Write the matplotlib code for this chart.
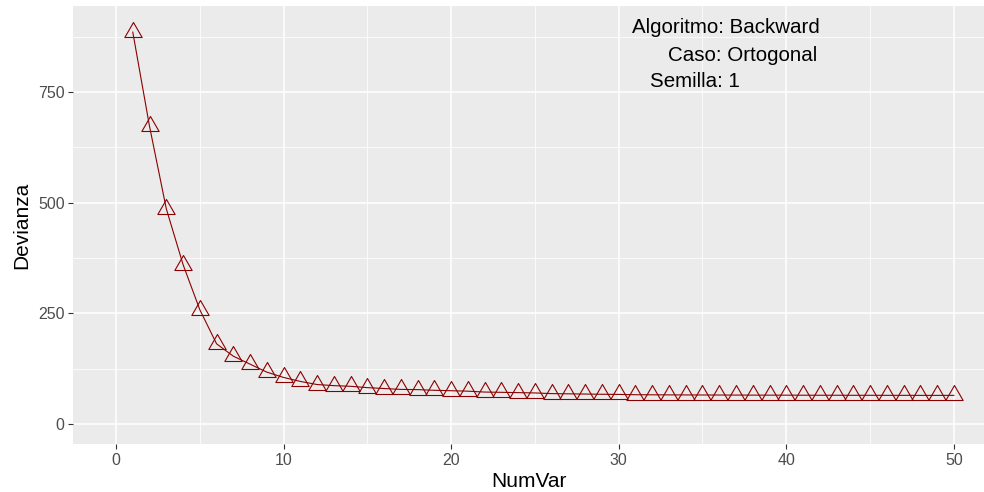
import matplotlib
matplotlib.use("Agg")
import matplotlib.pyplot as plt
from matplotlib.path import Path

plt.rcParams["font.family"] = ["Liberation Sans", "DejaVu Sans"]

# Deviance of the selected model by number of variables
num_var = list(range(1, 51))
devianza = [885, 672, 486, 360, 258, 181, 153, 135, 117, 105,
            96, 89, 86.5, 85, 82, 80, 78, 77.5, 76, 75,
            74, 72, 71.4, 70.7, 70, 68.5, 68, 67.5, 67, 66.7,
            66, 65.8, 65.6, 65.5, 65.4, 65.3, 65.2, 65.1, 65, 65,
            64.9, 64.8, 64.8, 64.7, 64.7, 64.6, 64.6, 64.5, 64.5, 64.5]

x_ticks = [0, 10, 20, 30, 40, 50]
y_ticks = [0, 250, 500, 750]
info_lines = ["Algoritmo: Backward", "Caso: Ortogonal", "Semilla: 1"]

fig = plt.figure(figsize=(9.84, 4.92), dpi=100)
ax = fig.add_axes([73.3 / 984, 1 - 444.3 / 492, 1 - 73.3 / 984, (444.3 - 6) / 492])

ax.set_facecolor("#EBEBEB")
for s in ax.spines.values():
    s.set_visible(False)

ax.set_xlim(-2.55, 51.8)
ax.set_ylim(-46, 944)
ax.set_xticks(x_ticks)
ax.set_yticks(y_ticks)
ax.set_xticks([5, 15, 25, 35, 45], minor=True)
ax.set_yticks([125, 375, 625, 875], minor=True)
ax.grid(which="major", color="white", linewidth=1.1)
ax.grid(which="minor", color="white", linewidth=0.55)
ax.set_axisbelow(True)
ax.tick_params(which="major", length=3.3, width=0.8, color="#333333",
               labelsize=11.5, labelcolor="#4D4D4D", pad=3)
ax.tick_params(which="minor", length=0)

# open triangle centred on its centroid
tri = Path([(0, 1), (-0.866, -0.5), (0.866, -0.5), (0, 1)],
           [Path.MOVETO, Path.LINETO, Path.LINETO, Path.CLOSEPOLY])

ax.plot(num_var, devianza, color="#8B0000", linewidth=0.8, zorder=3)
ax.plot(num_var, devianza, linestyle="none", marker=tri, markersize=14.4,
        markerfacecolor="none", markeredgecolor="#8B0000",
        markeredgewidth=0.8, zorder=4)

ax.set_xlabel("NumVar", fontsize=15, color="black", labelpad=3)
ax.set_ylabel("Devianza", fontsize=15, color="black", labelpad=5)

# annotation block
xpos = [632, 668, 650]
ypos = [33, 61, 87]
for t, xp, yp in zip(info_lines, xpos, ypos):
    fig.text(xp / 984, 1 - yp / 492, t, fontsize=14.8, color="black",
             ha="left", va="baseline")

fig.savefig("out.png", dpi=100)
